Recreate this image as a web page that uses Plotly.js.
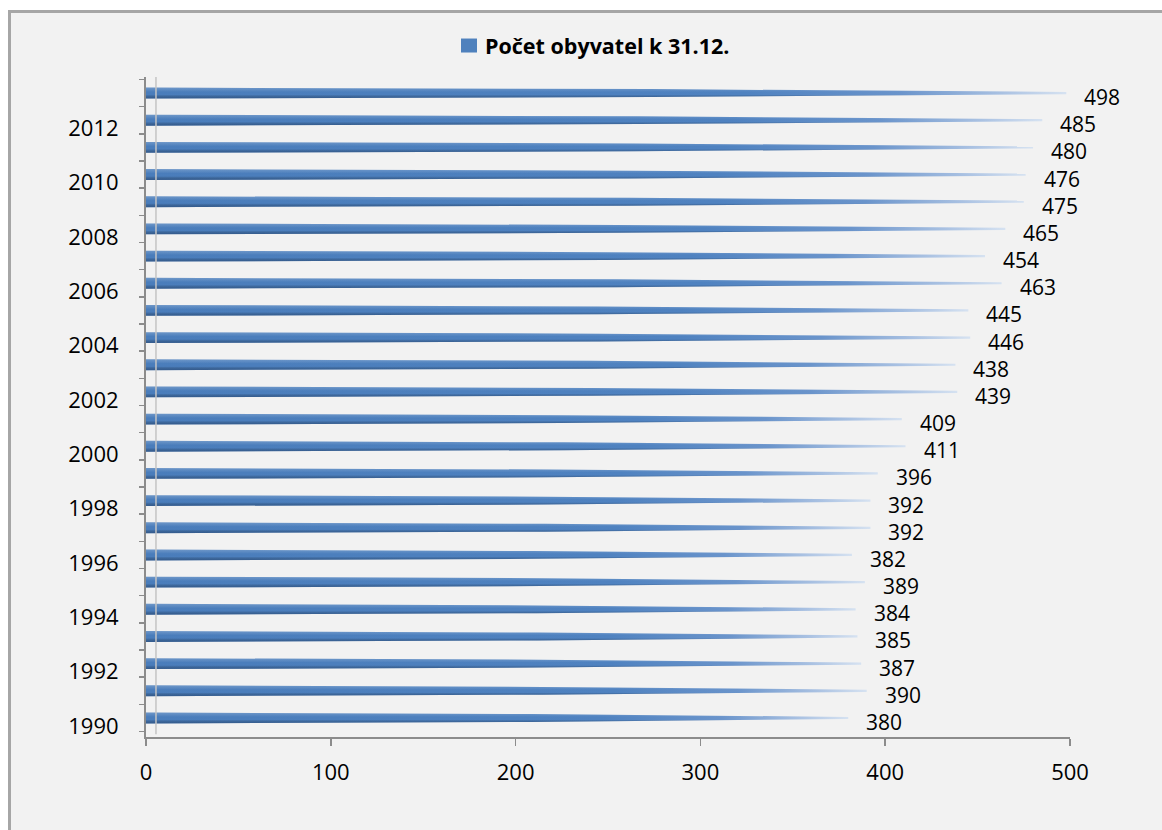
<!DOCTYPE html>
<html>
<head>
<meta charset="utf-8">
<script src="https://cdn.plot.ly/plotly-3.0.1.min.js"></script>
<style>
  html, body { margin:0; padding:0; background:#ffffff; width:1162px; height:830px; overflow:hidden; }
  #frame { position:absolute; left:8px; top:10px; width:1154px; height:820px;
           border-left:3px solid #a6a6a6; border-top:3px solid #a6a6a6; background:#f2f2f2; }
  #chart { position:absolute; left:0; top:0; width:1151px; height:817px; }
</style>
</head>
<body>
<div id="frame"><div id="chart"></div></div>
<script>
// ---- data ----
const years = [1990,1991,1992,1993,1994,1995,1996,1997,1998,1999,2000,2001,
               2002,2003,2004,2005,2006,2007,2008,2009,2010,2011,2012,2013];
const population = [380,390,387,385,384,389,382,392,392,396,411,409,
                    439,438,446,445,463,454,465,475,476,480,485,498];
const yTickYears = [1990,1992,1994,1996,1998,2000,2002,2004,2006,2008,2010,2012];
const yTickLabels = yTickYears.map(String);
const xTickVals = [0,100,200,300,400,500];
const seriesName = 'Počet obyvatel k 31.12.';

const FONT = 'Open Sans, Arial, sans-serif';
const BLUE = '#4f81bd';

const trace = {
  type: 'bar',
  orientation: 'h',
  x: population,
  y: years,
  width: 0.4,
  name: seriesName,
  marker: { color: BLUE },
  hoverinfo: 'skip',
  showlegend: false
};

const annotations = population.map((v, i) => ({
  x: v, y: years[i], xref: 'x', yref: 'y',
  text: String(v), showarrow: false,
  xanchor: 'left', yanchor: 'middle',
  xshift: 17, yshift: -4, borderpad: 0,
  font: { family: FONT, size: 21, color: '#000000' }
}));
// legend-like caption
annotations.push({
  x: 0.3647, y: 1.047, xref: 'paper', yref: 'paper',
  text: '<b>' + seriesName + '</b>', showarrow: false,
  xanchor: 'left', yanchor: 'middle',
  font: { family: FONT, size: 21.5, color: '#000000' }
});

const layout = {
  width: 1151, height: 817,
  paper_bgcolor: 'rgba(0,0,0,0)',
  plot_bgcolor: 'rgba(0,0,0,0)',
  margin: { l: 135, r: 92, t: 64, b: 93 },
  showlegend: false,
  xaxis: {
    range: [0, 500], tickvals: xTickVals, ticktext: xTickVals.map(String),
    showgrid: false, zeroline: false,
    showline: true, linecolor: '#8c8c8c', linewidth: 2,
    ticks: 'outside', ticklen: 7, tickcolor: '#8c8c8c', tickwidth: 1.5,
    ticklabelstandoff: 8,
    tickfont: { family: FONT, size: 22, color: '#000000' }
  },
  yaxis: {
    range: [1989.30, 2013.59],
    tickvals: yTickYears, ticktext: yTickLabels,
    showgrid: false, zeroline: false,
    showline: true, linecolor: '#8c8c8c', linewidth: 2,
    ticks: '', ticklabelstandoff: 21, ticklabelshift: 8,
    minor: { tick0: 1989.5, dtick: 1, ticks: 'outside', ticklen: 5, tickcolor: '#8c8c8c', tickwidth: 1.5, showgrid: false },
    tickfont: { family: FONT, size: 22, color: '#000000' }
  },
  shapes: [
    { type: 'line', xref: 'paper', yref: 'paper', x0: 0.0108, x1: 0.0108, y0: 0.004, y1: 1.0,
      line: { color: '#c4c4c4', width: 1.5 } },
    { type: 'rect', xref: 'paper', yref: 'paper', x0: 0.3409, x1: 0.3582, y0: 1.0371, y1: 1.0583,
      fillcolor: BLUE, line: { width: 0 } }
  ],
  annotations: annotations
};

Plotly.newPlot('chart', [trace], layout, { staticPlot: true, displayModeBar: false }).then(gd => {
  const NS = 'http://www.w3.org/2000/svg';
  const svg = gd.querySelector('.main-svg');
  let defs = svg.querySelector('defs');
  if (!defs) { defs = document.createElementNS(NS, 'defs'); svg.insertBefore(defs, svg.firstChild); }

  function grad(id, vertical, stops) {
    const g = document.createElementNS(NS, 'linearGradient');
    g.setAttribute('id', id);
    g.setAttribute('x1', '0'); g.setAttribute('y1', '0');
    g.setAttribute('x2', vertical ? '0' : '1'); g.setAttribute('y2', vertical ? '1' : '0');
    stops.forEach(s => {
      const st = document.createElementNS(NS, 'stop');
      st.setAttribute('offset', s[0]);
      st.setAttribute('stop-color', s[1]);
      st.setAttribute('stop-opacity', s[2]);
      g.appendChild(st);
    });
    defs.appendChild(g);
  }
  grad('barGradH', false, [
    ['0', '#4a7dbb', 1], ['0.65', '#4f82c0', 1], ['0.82', '#6a94cb', 1], ['0.93', '#a9c1e2', 1], ['1', '#d6e2f1', 1]
  ]);
  grad('barShadeV', true, [
    ['0', '#ffffff', 0.2], ['0.4', '#ffffff', 0], ['0.65', '#000000', 0], ['1', '#1f3b63', 0.5]
  ]);

  const re = /M([-\d.e]+),([-\d.e]+)V([-\d.e]+)H([-\d.e]+)V([-\d.e]+)Z/;
  gd.querySelectorAll('.barlayer .point path').forEach(p => {
    const d = p.getAttribute('d') || '';
    const m = d.match(re);
    if (m) {
      const x0 = +m[1], y0 = +m[2], y1 = +m[3], x1 = +m[4];
      const yc = (y0 + y1) / 2, h = Math.abs(y1 - y0) / 2;
      const xm = x0 + 0.55 * (x1 - x0), hm = h * 0.72, h2 = 1.1;
      const nd = `M${x0},${yc - h}L${xm},${yc - hm}L${x1},${yc - h2}L${x1},${yc + h2}L${xm},${yc + hm}L${x0},${yc + h}Z`;
      p.setAttribute('d', nd);
    }
    p.style.fill = 'url(#barGradH)';
    p.style.stroke = 'none';
    const c = p.cloneNode(true);
    c.style.fill = 'url(#barShadeV)';
    p.parentNode.appendChild(c);
  });
});
</script>
</body>
</html>
